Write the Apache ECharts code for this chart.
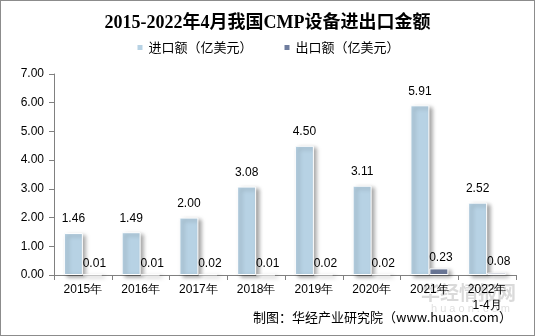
<!DOCTYPE html>
<html>
<head>
<meta charset="utf-8">
<script src="https://cdn.jsdelivr.net/npm/echarts@6/dist/echarts.min.js"></script>
<style>
  html, body { margin: 0; padding: 0; background: #fff; }
  #chart { width: 535px; height: 336px; box-sizing: border-box; border: 1px solid #8c8c8c; }
</style>
</head>
<body>
<div id="chart"></div>
<script>
// CMP equipment import / export values, 100 million USD
const categories = ['2015年', '2016年', '2017年', '2018年', '2019年', '2020年', '2021年', '2022年\n1-4月'];
const importValues = [1.46, 1.49, 2.00, 3.08, 4.50, 3.11, 5.91, 2.52];
const exportValues = [0.01, 0.01, 0.02, 0.01, 0.02, 0.02, 0.23, 0.08];
const yTicks = { min: 0, max: 7, interval: 1 };

const chart = echarts.init(document.getElementById('chart'), null, { renderer: 'canvas' });

const labelFont = { color: '#000', fontSize: 12, fontFamily: 'Arial, "Liberation Sans", sans-serif' };
const barShadow = {
  borderColor: '#fff', borderWidth: 1,
  shadowColor: 'rgba(0,0,0,0.35)', shadowBlur: 4, shadowOffsetX: 3, shadowOffsetY: 2
};

chart.setOption({
  animation: false,
  title: {
    text: '2015-2022年4月我国CMP设备进出口金额',
    left: 'center', top: 8,
    textStyle: { fontSize: 18, fontWeight: 'bold', color: '#000', fontFamily: '"Liberation Serif", "Noto Sans CJK SC", serif' }
  },
  legend: {
    top: 35, left: 'center', itemWidth: 7, itemHeight: 7, itemGap: 30,
    icon: 'rect',
    textStyle: { fontSize: 13, color: '#000', fontFamily: '"Noto Sans CJK SC", sans-serif' },
    data: ['进口额（亿美元）', '出口额（亿美元）']
  },
  grid: { left: 53, right: 18, top: 73, bottom: 60, containLabel: false },
  xAxis: {
    type: 'category', data: categories,
    axisLine: { lineStyle: { color: '#808080' } },
    axisTick: { show: true, length: 5, lineStyle: { color: '#808080' } },
    axisLabel: { ...labelFont, fontSize: 12, margin: 7, lineHeight: 16, interval: 0 }
  },
  yAxis: {
    type: 'value', min: yTicks.min, max: yTicks.max, interval: yTicks.interval,
    axisLine: { show: true, lineStyle: { color: '#808080' } },
    axisTick: { show: true, length: 5, lineStyle: { color: '#808080' } },
    splitLine: { show: false },
    axisLabel: { ...labelFont, margin: 10, formatter: v => v.toFixed(2) }
  },
  series: [
    {
      name: '进口额（亿美元）', type: 'bar', data: importValues,
      barWidth: 19, barGap: '0%',
      itemStyle: { color: '#B7D2E4', ...barShadow },
      label: { show: true, position: 'top', distance: 8, ...labelFont, formatter: p => p.value.toFixed(2) }
    },
    {
      name: '出口额（亿美元）', type: 'bar', data: exportValues,
      barWidth: 19,
      itemStyle: { color: '#6F7D9E', ...barShadow },
      label: { show: true, position: 'top', distance: 5, offset: [2, 0], ...labelFont, formatter: p => p.value.toFixed(2) }
    }
  ],
  graphic: [
    {
      type: 'text', left: 252, top: 310,
      style: { text: '制图：华经产业研究院（www.huaon.com）', fill: '#000', fontSize: 13, fontFamily: '"Noto Sans CJK SC", sans-serif' }
    },
    {
      type: 'text', left: 420, top: 282, z: 0,
      style: { text: '华经情报网', fill: 'rgba(150,150,150,0.35)', fontSize: 19, fontWeight: 'bold', fontFamily: '"Noto Sans CJK SC", sans-serif' }
    },
    {
      type: 'text', left: 430, top: 302, z: 0,
      style: { text: 'h u a o n . c o m', fill: 'rgba(150,150,150,0.3)', fontSize: 11, fontFamily: 'Arial, sans-serif' }
    }
  ]
});
</script>
</body>
</html>
